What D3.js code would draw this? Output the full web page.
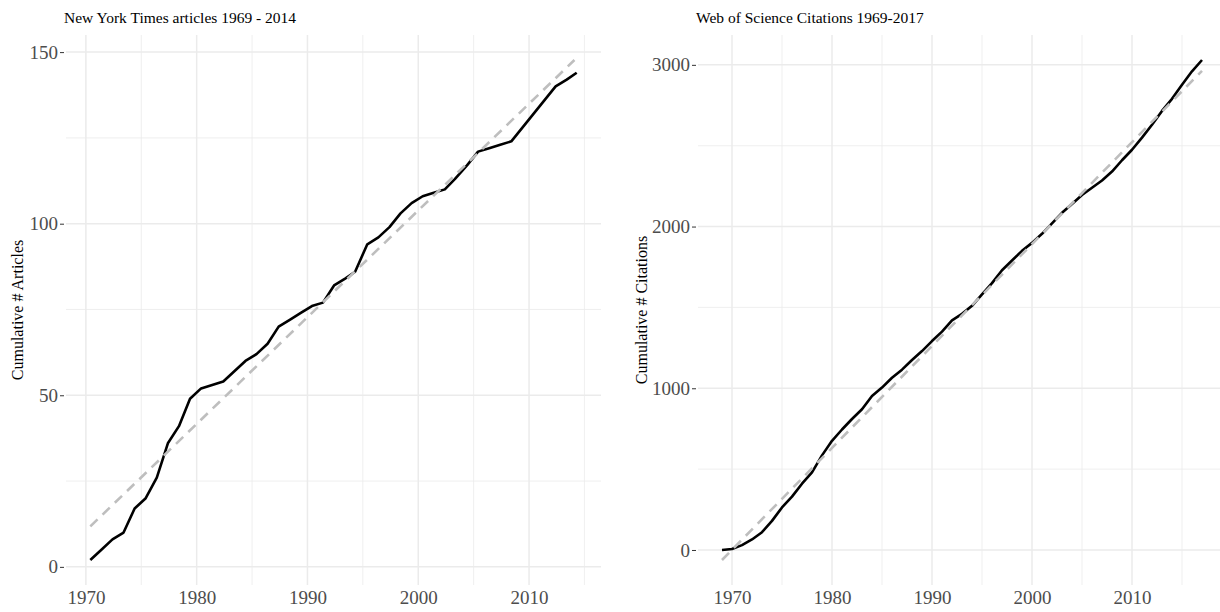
<!DOCTYPE html>
<html>
<head>
<meta charset="utf-8">
<script src="https://cdn.jsdelivr.net/npm/d3@7"></script>
<style>
  body { margin: 0; background: #fff; }
  svg text { font-family: "Liberation Serif", "Times New Roman", serif; }
</style>
</head>
<body>
<div id="viz"></div>
<script>
// New York Times, cumulative articles (x = decimal year as plotted)
const nytYears = [1970.4, 1971.4, 1972.4, 1973.4, 1974.4, 1975.4, 1976.4, 1977.4, 1978.4, 1979.4,
  1980.4, 1981.4, 1982.4, 1983.4, 1984.4, 1985.4, 1986.4, 1987.4, 1988.4, 1989.4,
  1990.4, 1991.4, 1992.4, 1993.4, 1994.3, 1995.4, 1996.4, 1997.4, 1998.4, 1999.4,
  2000.4, 2001.4, 2002.4, 2003.3, 2004.4, 2005.4, 2006.4, 2007.4, 2008.4, 2009.4,
  2010.4, 2011.4, 2012.4, 2013.4, 2014.3];
const nytArticles = [2, 5, 8, 10, 17, 20, 26, 36, 41, 49,
  52, 53, 54, 57, 60, 62, 65, 70, 72, 74,
  76, 77, 82, 84, 86, 94, 96, 99, 103, 106,
  108, 109, 110, 113, 117, 121, 122, 123, 124, 128,
  132, 136, 140, 142, 144];
const nytTrendYears = [1970.4, 2014.1];
const nytTrend = [11.8, 147.7];

// Web of Science, cumulative citations
const wosYears = d3.range(1969, 2018);
const wosCitations = [0, 6, 30, 65, 110, 180, 263, 330, 410, 480,
  585, 675, 745, 810, 870, 952, 1004, 1065, 1115, 1175,
  1230, 1292, 1350, 1420, 1460, 1510, 1580, 1650, 1730, 1790,
  1850, 1899, 1955, 2020, 2085, 2140, 2195, 2240, 2285, 2340,
  2410, 2475, 2550, 2630, 2715, 2790, 2877, 2960, 3030];
const wosTrendYears = [1969, 2017];
const wosTrend = [-62, 2963];

const yearTicks = [1970, 1980, 1990, 2000, 2010];
const nytTicks = [0, 50, 100, 150];
const wosTicks = [0, 1000, 2000, 3000];

const width = 1220;
const height = 612;
const serif = '"Liberation Serif", "Times New Roman", serif';

const svg = d3.select('#viz').append('svg')
    .attr('width', width)
    .attr('height', height);

svg.append('rect').attr('width', width).attr('height', height).attr('fill', '#fff');

// ggplot-like 5% expansion
function expand(ext) {
    const pad = (ext[1] - ext[0]) * 0.05;
    return [ext[0] - pad, ext[1] + pad];
}

function minorTicks(major, domain) {
    const step = major[1] - major[0];
    const out = [];
    for (let v = major[0] - step / 2; v <= domain[1]; v += step) {
        if (v >= domain[0]) out.push(v);
    }
    return out;
}

function panel(opts) {
    const line = opts.xs.map((x, i) => ({ x: x, y: opts.ys[i] }));
    const trend = opts.tx.map((x, i) => ({ x: x, y: opts.ty[i] }));
    const all = line.concat(trend);

    const x = d3.scaleLinear()
        .domain(expand(d3.extent(all, d => d.x)))
        .range([opts.left, opts.right]);
    const y = d3.scaleLinear()
        .domain(expand(d3.extent(all, d => d.y)))
        .range([opts.bottom, opts.top]);

    const g = svg.append('g');

    // minor grid
    g.selectAll('.vminor').data(minorTicks(yearTicks, x.domain())).enter()
        .append('line')
        .attr('x1', d => x(d)).attr('x2', d => x(d))
        .attr('y1', opts.top).attr('y2', opts.bottom)
        .attr('stroke', '#ebebeb').attr('stroke-width', 0.8);
    g.selectAll('.hminor').data(minorTicks(opts.yTicks, y.domain())).enter()
        .append('line')
        .attr('x1', opts.left).attr('x2', opts.right)
        .attr('y1', d => y(d)).attr('y2', d => y(d))
        .attr('stroke', '#ebebeb').attr('stroke-width', 0.8);

    // major grid
    g.selectAll('.vmajor').data(yearTicks).enter()
        .append('line')
        .attr('x1', d => x(d)).attr('x2', d => x(d))
        .attr('y1', opts.top).attr('y2', opts.bottom)
        .attr('stroke', '#ebebeb').attr('stroke-width', 1.5);
    g.selectAll('.hmajor').data(opts.yTicks).enter()
        .append('line')
        .attr('x1', opts.left).attr('x2', opts.right)
        .attr('y1', d => y(d)).attr('y2', d => y(d))
        .attr('stroke', '#ebebeb').attr('stroke-width', 1.5);

    // axes
    const yAxis = g.append('g')
        .attr('transform', `translate(${opts.left - 2},0)`)
        .call(d3.axisLeft(y).tickValues(opts.yTicks).tickFormat(d3.format('d')).tickSize(4).tickPadding(2));
    yAxis.select('.domain').remove();
    yAxis.selectAll('line').attr('stroke', '#333');
    yAxis.selectAll('text')
        .attr('fill', '#4d4d4d')
        .style('font-size', '19px')
        .style('font-family', serif);

    const xAxis = g.append('g')
        .attr('transform', `translate(0,${opts.bottom})`)
        .call(d3.axisBottom(x).tickValues(yearTicks).tickFormat(d3.format('d')).tickSize(0).tickPadding(6));
    xAxis.select('.domain').remove();
    xAxis.selectAll('text')
        .attr('fill', '#4d4d4d')
        .style('font-size', '19px')
        .style('font-family', serif);

    // lines
    const lineGen = d3.line().x(d => x(d.x)).y(d => y(d.y));

    g.append('path')
        .datum(line)
        .attr('d', lineGen)
        .attr('fill', 'none')
        .attr('stroke', '#000')
        .attr('stroke-width', 2.6)
        .attr('stroke-linejoin', 'round');

    g.append('path')
        .datum(trend)
        .attr('d', lineGen)
        .attr('fill', 'none')
        .attr('stroke', '#bebebe')
        .attr('stroke-width', 2.6)
        .attr('stroke-dasharray', '10,7');

    // title
    g.append('text')
        .attr('x', opts.left - 2)
        .attr('y', 23)
        .attr('fill', '#000')
        .style('font-size', '15.5px')
        .text(opts.title);

    // y label
    g.append('text')
        .attr('transform', `translate(${opts.yLabelX},${(opts.top + opts.bottom) / 2}) rotate(-90)`)
        .attr('text-anchor', 'middle')
        .attr('fill', '#000')
        .style('font-size', '16px')
        .text(opts.yLabel);
}

panel({
    xs: nytYears, ys: nytArticles, tx: nytTrendYears, ty: nytTrend,
    yTicks: nytTicks,
    left: 66, right: 601, top: 35, bottom: 585,
    title: 'New York Times articles 1969 - 2014',
    yLabel: 'Cumulative # Articles',
    yLabelX: 23
});

panel({
    xs: wosYears, ys: wosCitations, tx: wosTrendYears, ty: wosTrend,
    yTicks: wosTicks,
    left: 698, right: 1226, top: 35, bottom: 585,
    title: 'Web of Science Citations 1969-2017',
    yLabel: 'Cumulative # Citations',
    yLabelX: 647
});
</script>
</body>
</html>
